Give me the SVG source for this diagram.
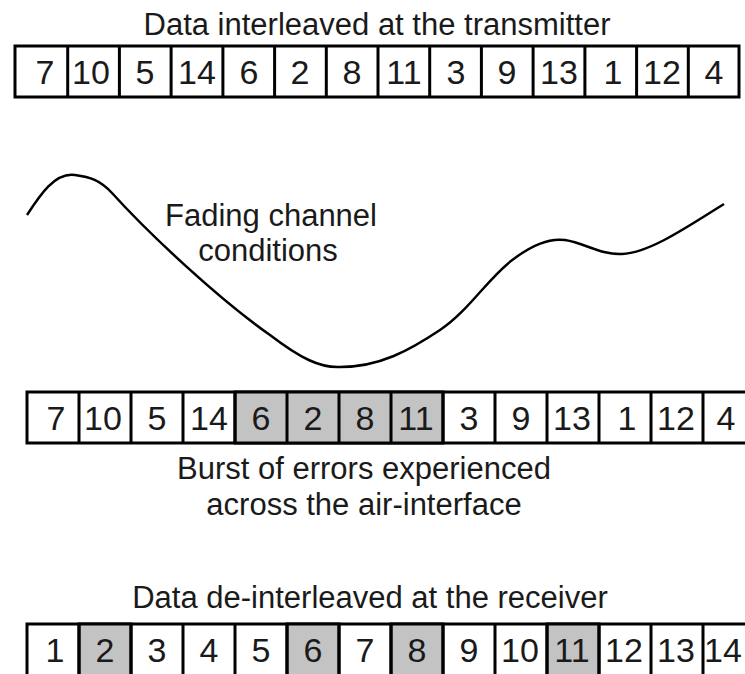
<svg xmlns="http://www.w3.org/2000/svg" width="745" height="674" viewBox="0 0 745 674">
<style>
.lbl{font-family:"Liberation Sans",Arial,sans-serif;font-size:31px;fill:#1a1a1a;text-anchor:middle}
.num{font-family:"Liberation Sans",Arial,sans-serif;font-size:34px;fill:#1a1a1a;text-anchor:middle}
.cell{fill:#fff;stroke:#000;stroke-width:3}
.hit{fill:#c3c3c3;stroke:#000;stroke-width:3}
.curve{fill:none;stroke:#000;stroke-width:2.5}
</style>
<rect width="745" height="674" fill="#fff"/>
<text class="lbl" x="377" y="35">Data interleaved at the transmitter</text>
<g id="row-transmitter">
<rect class="cell" x="15" y="46" width="724" height="51"/>
<path d="M67.7,46V97M119.4,46V97M171.1,46V97M222.9,46V97M274.6,46V97M326.3,46V97M378,46V97M429.7,46V97M481.4,46V97M533.1,46V97M584.9,46V97M636.6,46V97M688.3,46V97" stroke="#000" stroke-width="3"/>
<text class="num" y="84"><tspan x="45">7</tspan><tspan x="91">10</tspan><tspan x="145">5</tspan><tspan x="197">14</tspan><tspan x="249">6</tspan><tspan x="300">2</tspan><tspan x="352">8</tspan><tspan x="404">11</tspan><tspan x="456">3</tspan><tspan x="507">9</tspan><tspan x="559">13</tspan><tspan x="613">1</tspan><tspan x="662">12</tspan><tspan x="714">4</tspan></text>
</g>
<g id="channel">
<path class="curve" d="M27,215 C40,195 55,172 75,175 C90,177 100,180 112,193 C150,235 220,300 270,335 C300,358 320,368 340,367 C380,367 410,350 440,330 C470,310 490,275 515,258 C535,243 550,238 565,240 C585,243 600,255 622,254 C650,253 690,225 724,204"/>
<text class="lbl" x="271" y="226">Fading channel</text>
<text class="lbl" x="268" y="261">conditions</text>
</g>
<g id="row-air">
<rect class="cell" x="27" y="392" width="728" height="51"/>
<rect class="hit" x="235" y="392" width="208" height="51"/>
<path d="M79,392V443M131,392V443M183,392V443M235,392V443M287,392V443M339,392V443M391,392V443M443,392V443M495,392V443M547,392V443M599,392V443M651,392V443M703,392V443" stroke="#000" stroke-width="3"/>
<text class="num" y="430"><tspan x="56">7</tspan><tspan x="103">10</tspan><tspan x="157">5</tspan><tspan x="209">14</tspan><tspan x="261">6</tspan><tspan x="313">2</tspan><tspan x="365">8</tspan><tspan x="416">11</tspan><tspan x="469">3</tspan><tspan x="521">9</tspan><tspan x="572">13</tspan><tspan x="627">1</tspan><tspan x="676">12</tspan><tspan x="726">4</tspan></text>
</g>
<text class="lbl" x="364" y="479">Burst of errors experienced</text>
<text class="lbl" x="364" y="515">across the air-interface</text>
<text class="lbl" x="370" y="608">Data de-interleaved at the receiver</text>
<g id="row-receiver">
<rect class="cell" x="27" y="624" width="728" height="60"/>
<rect class="hit" x="79" y="624" width="52" height="60"/>
<rect class="hit" x="287" y="624" width="52" height="60"/>
<rect class="hit" x="391" y="624" width="52" height="60"/>
<rect class="hit" x="547" y="624" width="52" height="60"/>
<path d="M79,624V684M131,624V684M183,624V684M235,624V684M287,624V684M339,624V684M391,624V684M443,624V684M495,624V684M547,624V684M599,624V684M651,624V684M703,624V684" stroke="#000" stroke-width="3"/>
<text class="num" y="662"><tspan x="55">1</tspan><tspan x="105">2</tspan><tspan x="157">3</tspan><tspan x="209">4</tspan><tspan x="261">5</tspan><tspan x="313">6</tspan><tspan x="365">7</tspan><tspan x="417">8</tspan><tspan x="469">9</tspan><tspan x="520">10</tspan><tspan x="572">11</tspan><tspan x="624">12</tspan><tspan x="676">13</tspan><tspan x="723">14</tspan></text>
</g>
</svg>
